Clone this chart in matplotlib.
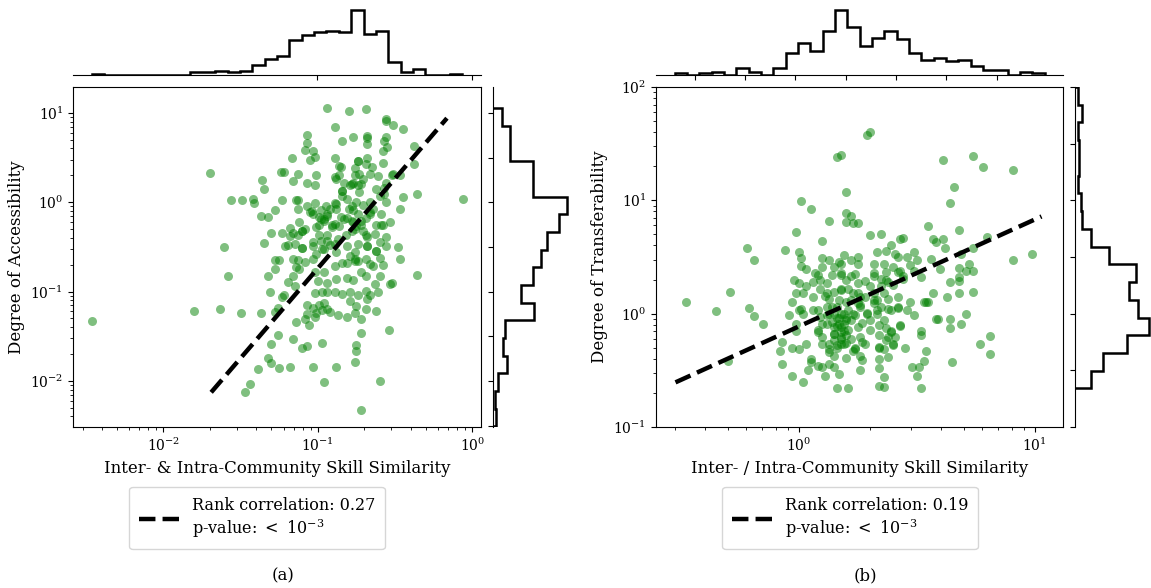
import numpy as np
import matplotlib
matplotlib.use('Agg')
import matplotlib.pyplot as plt
from matplotlib.ticker import NullFormatter, MultipleLocator

plt.rcParams['font.family'] = 'DejaVu Serif'
plt.rcParams['mathtext.fontset'] = 'dejavuserif'

# (a) log10 of inter- & intra-community skill similarity vs. log10 of degree of accessibility
acc_log_sim = [
    -0.94, -0.80, -0.69, -0.56, -0.56, -0.51, -0.45, -0.89, -1.07, -0.77,
    -0.68, -0.68, -0.56, -0.84, -1.07, -0.57, -0.68, -0.55, -0.38, -1.08,
    -1.03, -0.58, -1.02, -1.05, -1.17, -0.89, -0.68, -0.74, -0.69, -0.58,
    -0.38, -0.85, -0.65, -0.76, -1.70, -1.24, -1.22, -1.13, -1.01, -1.16,
    -1.07, -1.02, -0.89, -0.86, -0.88, -0.76, -0.73, -0.77, -0.71, -0.66,
    -0.61, -0.51, -0.47, -1.36, -0.56, -0.83, -0.79, -0.74, -1.35, -1.02,
    -1.56, -1.49, -1.42, -1.41, -1.23, -1.13, -1.13, -1.07, -0.95, -0.89,
    -0.88, -0.84, -0.81, -0.80, -0.75, -0.73, -0.71, -0.66, -0.62, -0.56,
    -0.57, -0.45, -0.36, -0.06, -0.47, -0.60, -1.37, -1.32, -1.28, -1.05,
    -1.03, -0.99, -0.96, -0.94, -0.92, -0.89, -0.85, -0.81, -0.77, -0.72,
    -0.69, -0.66, -0.64, -0.62, -0.59, -0.58, -0.53, -1.12, -1.08, -1.18,
    -1.16, -0.76, -1.30, -1.23, -0.78, -1.18, -1.13, -1.10, -1.35, -1.61,
    -1.21, -1.19, -1.15, -1.10, -1.03, -0.99, -0.98, -0.96, -0.92, -0.89,
    -0.74, -0.69, -0.68, -0.63, -0.60, -0.56, -0.56, -0.48, -0.47, -0.62,
    -0.76, -0.79, -1.28, -1.25, -1.16, -1.13, -1.14, -1.12, -1.08, -1.28,
    -1.32, -1.16, -1.03, -1.01, -0.97, -1.02, -0.96, -0.89, -0.84, -0.76,
    -0.74, -0.69, -0.66, -0.64, -0.60, -0.58, -0.60, -0.36, -1.58, -1.19,
    -1.15, -1.00, -0.94, -0.88, -0.81, -0.77, -0.72, -0.69, -0.63, -0.52,
    -0.53, -1.31, -1.22, -1.23, -1.02, -0.97, -0.94, -0.89, -0.84, -0.79,
    -0.74, -0.69, -0.66, -0.61, -1.07, -1.03, -0.99, -0.96, -0.97, -0.94,
    -0.92, -1.01, -1.02, -1.07, -1.08, -0.79, -0.75, -0.69, -0.68, -0.62,
    -0.87, -0.81, -0.76, -0.72, -1.26, -1.28, -1.37, -1.50, -1.63, -1.80,
    -2.46, -1.14, -1.06, -1.26, -1.16, -1.30, -1.10, -1.07, -0.97, -0.72,
    -0.54, -0.75, -0.75, -1.32, -1.30, -1.39, -1.25, -1.18, -1.03, -0.88,
    -0.76, -1.44, -1.47, -0.96, -0.60, -0.72, -0.96, -0.91, -0.82, -0.77,
    -0.71, -0.99, -0.87, -0.81, -0.94, -0.74, -0.78, -0.84, -0.98, -0.68,
    -1.04, -0.94, -0.98, -0.88, -0.83, -0.78, -0.72, -0.66, -0.59, -0.75,
    -0.86, -0.91, -1.01, -1.10, -0.81, -0.76, -0.88, -0.94, -1.03, -1.10,
    -0.68, -0.62, -0.86, -0.74, -0.78, -0.72, -0.84, -0.57, -0.52, -1.14,
]
acc_log_deg = [
    1.05, 1.02, 1.04, 0.93, 0.91, 0.87, 0.82, 0.84, 0.75, 0.73,
    0.74, 0.72, 0.73, 0.68, 0.66, 0.68, 0.65, 0.62, 0.63, 0.58,
    0.57, 0.57, 0.51, 0.47, 0.49, 0.49, 0.50, 0.46, 0.43, 0.44,
    0.43, 0.40, 0.40, 0.38, 0.33, 0.34, 0.34, 0.32, 0.31, 0.24,
    0.21, 0.19, 0.28, 0.31, 0.26, 0.30, 0.32, 0.22, 0.26, 0.32,
    0.29, 0.32, 0.30, 0.25, 0.21, 0.21, 0.19, 0.19, 0.15, -0.01,
    0.03, 0.03, 0.04, -0.01, 0.02, 0.03, -0.07, -0.04, -0.04, -0.01,
    -0.07, 0.13, 0.04, -0.07, 0.00, 0.12, -0.03, 0.00, 0.15, 0.00,
    0.16, 0.06, 0.09, 0.04, -0.07, 0.07, -0.15, -0.17, -0.09, -0.11,
    -0.13, -0.16, -0.19, -0.13, -0.07, -0.24, -0.17, -0.18, -0.22, -0.25,
    -0.18, -0.11, -0.07, -0.26, -0.13, -0.25, -0.22, -0.22, -0.30, -0.29,
    -0.34, -0.30, -0.34, -0.34, -0.32, -0.38, -0.37, -0.32, -0.46, -0.50,
    -0.49, -0.48, -0.47, -0.51, -0.49, -0.37, -0.43, -0.52, -0.48, -0.47,
    -0.47, -0.37, -0.49, -0.35, -0.44, -0.39, -0.49, -0.50, -0.64, -0.55,
    -0.56, -0.60, -0.65, -0.65, -0.63, -0.65, -0.73, -0.75, -0.67, -0.75,
    -0.83, -0.82, -0.63, -0.58, -0.52, -0.78, -0.78, -0.71, -0.68, -0.63,
    -0.66, -0.63, -0.69, -0.71, -0.62, -0.70, -0.82, -0.81, -0.83, -0.89,
    -0.94, -0.88, -0.90, -0.86, -0.85, -0.87, -0.78, -0.82, -0.91, -0.90,
    -0.92, -1.00, -1.04, -1.06, -1.02, -1.00, -1.01, -1.01, -1.03, -1.01,
    -1.04, -0.99, -1.04, -1.00, -1.15, -1.18, -1.15, -1.13, -1.21, -1.19,
    -1.23, -1.24, -1.29, -1.25, -1.31, -1.11, -1.16, -1.19, -1.08, -1.22,
    -1.26, -1.28, -1.24, -1.31, -1.18, -1.23, -1.24, -1.24, -1.19, -1.22,
    -1.33, -1.34, -1.37, -1.49, -1.53, -1.59, -1.63, -1.61, -1.57, -1.46,
    -1.43, -1.60, -1.67, -1.74, -1.80, -1.87, -1.85, -1.84, -1.84, -1.84,
    -1.79, -2.03, -2.12, -2.01, -2.00, -2.33, -0.21, -0.28, -0.37, -0.09,
    -0.32, -0.26, -0.41, -0.49, -0.37, -0.13, -0.04, 0.07, -0.09, -0.39,
    -0.10, -0.15, -0.19, -0.02, -0.19, -0.21, -0.21, -0.13, -0.25, -0.27,
    -0.27, -0.25, -0.28, -0.32, -0.68, -0.66, -0.56, -0.43, -0.45, -0.51,
    -0.49, -0.55, 0.41, 0.46, 0.20, 0.20, 0.13, 0.09, 0.31, 0.03,
]
# marginal counts, low to high: 30 bins over the similarity, 18 bins over the degree
acc_sim_counts = [1, 0, 0, 0, 0, 0, 0, 0, 2, 2, 3, 2, 3, 7, 11, 13, 24, 27, 29, 30,
                  29, 44, 28, 30, 9, 2, 4, 0, 0, 1]
acc_deg_counts = [2, 1, 3, 8, 6, 7, 24, 16, 23, 28, 31, 38, 43, 23, 23, 10, 10, 5]
acc_deg_range = (-2.51, 1.05)
acc_fit = dict(slope=2.01, intercept=1.27, x_from=0.0204, x_to=0.686)
acc_rank_corr = 0.27

# (b) log10 of inter- / intra-community skill similarity vs. log10 of degree of transferability
trans_log_sim = [
    0.29, 0.30, 0.16, 0.18, 0.61, 0.74, 0.78, 0.91, 0.20, 0.66,
    0.64, 0.01, 0.05, 0.20, 0.22, 0.20, 0.23, 0.25, 0.13, 0.55,
    0.68, -0.01, 0.30, 0.35, 0.80, 0.43, 0.44, 0.57, 0.61, 0.58,
    0.10, 0.39, -0.22, -0.06, 0.62, 0.74, 0.99, 0.91, -0.19, 0.00,
    0.01, 0.10, 0.13, 0.17, 0.19, 0.25, 0.22, 0.37, 0.33, 0.41,
    0.42, 0.46, 0.49, 0.50, 0.56, 0.69, 0.72, 0.01, 0.03, 0.07,
    0.10, 0.15, 0.18, 0.25, 0.32, 0.36, 0.40, 0.43, 0.47, 0.49,
    0.60, 0.68, 0.71, 0.74, -0.02, 0.00, 0.03, 0.06, 0.09, 0.12,
    0.14, 0.18, 0.20, 0.22, 0.24, 0.28, 0.32, 0.35, 0.38, 0.40,
    0.44, 0.52, 0.64, 0.68, 0.68, 0.74, -0.29, 0.02, 0.06, 0.11,
    0.13, 0.15, 0.18, 0.21, 0.23, 0.26, 0.32, 0.33, 0.36, 0.38,
    0.42, 0.47, 0.53, 0.55, 0.57, 0.63, 0.68, -0.48, -0.35, -0.21,
    -0.19, -0.15, -0.03, -0.04, 0.00, 0.01, -0.01, -0.01, 0.08, 0.09,
    0.12, 0.15, 0.17, 0.19, 0.21, 0.24, 0.26, 0.29, 0.30, 0.33,
    0.35, 0.38, 0.42, 0.39, 0.46, 0.49, 0.58, 0.59, 0.64, 0.64,
    0.69, 0.71, 0.08, 0.12, 0.14, 0.16, 0.19, 0.21, 0.25, 0.27,
    0.30, 0.34, 0.37, 0.39, 0.43, 0.52, 0.52, 0.10, 0.15, 0.18,
    0.20, 0.22, 0.26, 0.34, 0.38, 0.41, -0.07, -0.08, -0.03, 0.00,
    0.03, 0.10, 0.13, 0.16, 0.18, 0.24, 0.28, 0.34, 0.36, 0.40,
    0.45, 0.77, 0.81, 0.81, 0.13, 0.15, 0.20, 0.26, 0.27, 0.34,
    0.38, 0.54, 0.53, 0.65, -0.07, -0.30, 0.05, 0.05, 0.08, 0.10,
    0.13, 0.04, 0.15, 0.17, 0.26, 0.34, 0.48, 0.51, 0.36, 0.50,
    -0.03, 0.11, 0.02, 0.16, 0.21, 0.34, 0.36, 0.52, 0.16, 0.18,
    0.20, 0.14, 0.22, 0.25, 0.17, 0.12, 0.15, 0.18, 0.22, 0.32,
    0.35, 0.42, 0.37, 0.09, 0.25, 0.30, 0.19, 0.23, 0.12, 0.18,
    0.25, 0.20, 0.16, 0.13, 0.18, 0.20, 0.17, 0.15, 0.19, 0.18,
    0.15, 0.13, 0.16, 0.20, 0.24, 0.27, 0.29, 0.33, 0.36, 0.39,
    0.37, 0.34, 0.40, 0.43, 0.42, 0.32, 0.28, 0.26, 0.23, 0.10,
    0.08, 0.06, 0.02, -0.01, 0.08, 0.18, 0.32, 0.37, 0.44, 0.54,
]
trans_log_deg = [
    1.58, 1.60, 1.38, 1.40, 1.36, 1.39, 1.29, 1.27, 1.07, 1.12,
    0.98, 0.99, 0.92, 0.89, 0.86, 0.81, 0.80, 0.80, 0.82, 0.77,
    0.74, 0.72, 0.69, 0.70, 0.68, 0.66, 0.67, 0.66, 0.66, 0.63,
    0.64, 0.61, 0.58, 0.56, 0.58, 0.58, 0.53, 0.47, 0.47, 0.54,
    0.49, 0.49, 0.47, 0.46, 0.52, 0.50, 0.47, 0.55, 0.54, 0.53,
    0.50, 0.50, 0.54, 0.47, 0.48, 0.53, 0.44, 0.42, 0.39, 0.36,
    0.41, 0.41, 0.44, 0.44, 0.44, 0.44, 0.41, 0.38, 0.43, 0.38,
    0.39, 0.40, 0.38, 0.38, 0.30, 0.27, 0.24, 0.28, 0.22, 0.27,
    0.34, 0.36, 0.30, 0.33, 0.35, 0.29, 0.33, 0.31, 0.28, 0.25,
    0.33, 0.32, 0.28, 0.32, 0.29, 0.19, 0.19, 0.18, 0.15, 0.16,
    0.13, 0.19, 0.22, 0.22, 0.18, 0.15, 0.18, 0.12, 0.18, 0.13,
    0.15, 0.10, 0.10, 0.10, 0.18, 0.15, 0.18, 0.10, 0.02, 0.05,
    -0.02, -0.09, 0.10, -0.01, 0.03, 0.04, -0.09, -0.15, 0.03, -0.03,
    -0.01, 0.00, -0.04, 0.00, 0.03, -0.01, 0.06, 0.01, -0.06, 0.00,
    0.06, 0.04, 0.05, 0.03, 0.03, -0.01, -0.05, -0.05, -0.05, -0.13,
    -0.09, 0.00, -0.14, -0.09, -0.07, -0.11, -0.09, -0.14, -0.12, -0.08,
    -0.14, -0.10, -0.13, -0.16, -0.11, -0.15, -0.19, -0.21, -0.18, -0.22,
    -0.19, -0.22, -0.21, -0.19, -0.21, -0.21, -0.25, -0.33, -0.30, -0.31,
    -0.27, -0.27, -0.27, -0.30, -0.27, -0.30, -0.27, -0.30, -0.31, -0.27,
    -0.30, -0.27, -0.20, -0.36, -0.34, -0.37, -0.39, -0.37, -0.41, -0.40,
    -0.38, -0.33, -0.42, -0.43, -0.44, -0.42, -0.40, -0.43, -0.46, -0.47,
    -0.44, -0.50, -0.47, -0.53, -0.50, -0.48, -0.47, -0.47, -0.56, -0.55,
    -0.55, -0.55, -0.60, -0.66, -0.66, -0.64, -0.65, -0.66, -0.04, -0.12,
    -0.04, 0.06, 0.12, 0.09, 0.12, 0.06, -0.18, -0.16, -0.06, 0.09,
    0.24, 0.37, 0.37, 0.30, 0.27, 0.24, -0.27, -0.33, 0.18, 0.21,
    0.18, 0.10, 0.06, 0.00, 0.00, -0.06, -0.09, -0.12, -0.15, -0.21,
    -0.23, -0.31, -0.28, -0.26, -0.31, -0.25, 0.00, 0.03, -0.06, -0.15,
    -0.23, -0.29, -0.28, -0.10, 0.06, 0.12, 0.15, 0.08, 0.00, -0.09,
    -0.16, 0.03, 0.00, 0.18, 0.34, 0.34, 0.36, 0.30, 0.31, 0.10,
]
trans_sim_counts = [1, 0, 1, 2, 0, 4, 2, 0, 4, 13, 19, 14, 26, 38, 28, 17, 22, 26, 21, 13,
                    9, 10, 8, 9, 5, 3, 3, 0, 2, 1]
trans_deg_counts = [11, 19, 36, 51, 43, 37, 42, 23, 11, 5, 4, 2, 3, 3, 2, 5, 2]
trans_deg_range = (-0.66, 2.0)
trans_fit = dict(slope=0.943, intercept=-0.113, x_from=0.30, x_to=10.7)
trans_rank_corr = 0.19

W, H = 1151, 588


def draw_panel(fig, x0, x1, log_x, log_y, sim_counts, deg_counts, deg_range, fit, corr,
               xlim, ylim, xlabel, ylabel, top_ticks, legend_x, caption_x, tag):
    log_x = np.asarray(log_x)
    log_y = np.asarray(log_y)
    ax = fig.add_axes([x0 / W, 1 - 427 / H, (x1 - x0) / W, 340 / H])
    ax.scatter(10 ** log_x, 10 ** log_y, s=42, color='green', alpha=0.5, linewidths=0)
    fx = np.array([fit['x_from'], fit['x_to']])
    line, = ax.plot(fx, 10 ** fit['intercept'] * fx ** fit['slope'], 'k--', lw=3.2)
    ax.set_xscale('log')
    ax.set_yscale('log')
    ax.set_xlim(xlim)
    ax.set_ylim(ylim)
    ax.set_xlabel(xlabel, fontsize=12)
    ax.set_ylabel(ylabel, fontsize=12)
    ax.tick_params(labelsize=10)

    # marginal over x: histogram of the log values
    ax_top = fig.add_axes([x0 / W, 1 - 75 / H, (x1 - x0) / W, 68 / H])
    edges = np.linspace(log_x.min(), log_x.max(), len(sim_counts) + 1)
    ax_top.stairs(sim_counts, edges, color='k', lw=1.8)
    span = edges[-1] - edges[0]
    ax_top.set_xlim(edges[0] - 0.05 * span, edges[-1] + 0.05 * span)
    ax_top.set_ylim(0, max(sim_counts) * 1.05)
    for s in ('top', 'left', 'right'):
        ax_top.spines[s].set_visible(False)
    ax_top.set_yticks([])
    ax_top.set_xticks(top_ticks)
    ax_top.xaxis.set_major_formatter(NullFormatter())

    # marginal over y
    ax_r = fig.add_axes([(x1 + 12) / W, 1 - 427 / H, 78 / W, 340 / H])
    edges = np.linspace(deg_range[0], deg_range[1], len(deg_counts) + 1)
    ax_r.stairs(deg_counts, edges, color='k', lw=1.8, orientation='horizontal')
    ax_r.set_ylim(np.log10(ylim))
    ax_r.set_xlim(0, max(deg_counts) * 1.05)
    for s in ('top', 'bottom', 'right'):
        ax_r.spines[s].set_visible(False)
    ax_r.set_xticks([])
    ax_r.yaxis.set_major_locator(MultipleLocator(0.5))
    ax_r.yaxis.set_major_formatter(NullFormatter())

    label = 'Rank correlation: %.2f\np-value: $<$ $10^{-3}$' % corr
    fig.legend([line], [label], loc='upper center', fontsize=11.5, handlelength=2.5,
               handletextpad=0.8, borderpad=0.6,
               bbox_to_anchor=(legend_x / W, 1 - 479 / H))
    fig.text(caption_x / W, 1 - 576 / H, tag, ha='center', va='center', fontsize=12)


fig = plt.figure(figsize=(W / 100, H / 100), dpi=100)

draw_panel(fig, 73, 481, acc_log_sim, acc_log_deg, acc_sim_counts, acc_deg_counts,
           acc_deg_range, acc_fit, acc_rank_corr, (2.6e-3, 1.14), (3.05e-3, 19.5),
           'Inter- & Intra-Community Skill Similarity', 'Degree of Accessibility',
           [-1.0, 0.0], 257, 283, '(a)')
draw_panel(fig, 656, 1063, trans_log_sim, trans_log_deg, trans_sim_counts, trans_deg_counts,
           trans_deg_range, trans_fit, trans_rank_corr, (0.248, 13.2), (0.1, 100),
           'Inter- / Intra-Community Skill Similarity', 'Degree of Transferability',
           np.arange(-0.4, 0.81, 0.2), 850, 865, '(b)')

fig.savefig('out.png', dpi=100)
